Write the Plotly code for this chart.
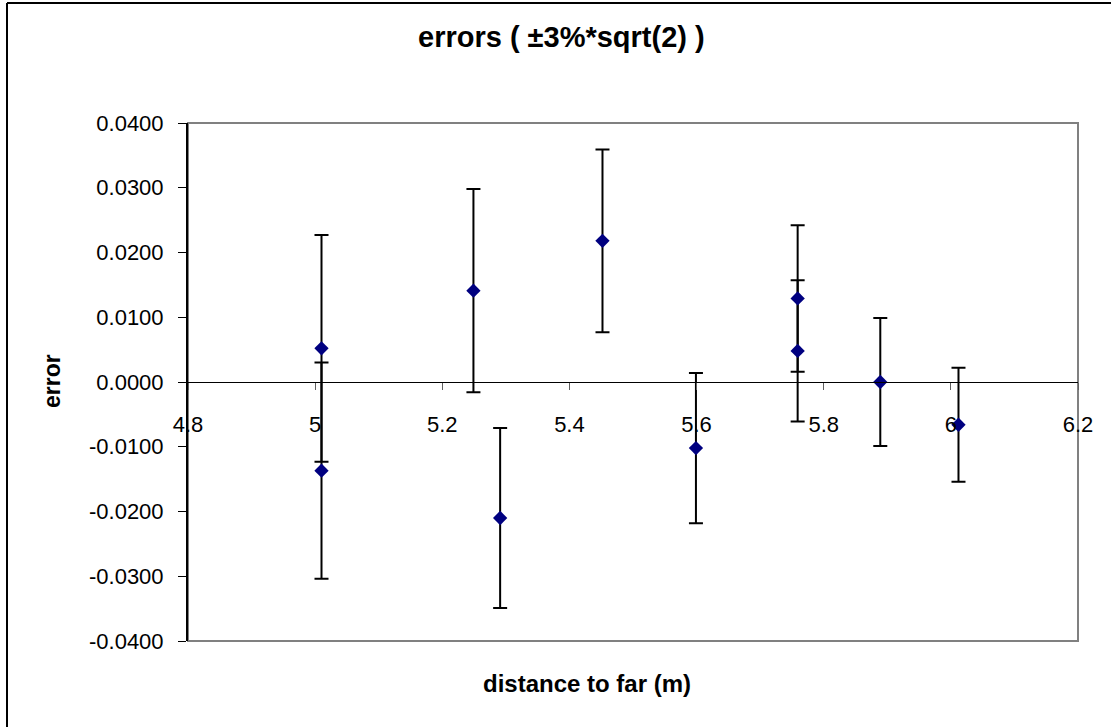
import plotly.graph_objects as go

# Measured distance (m), error value and half-width of its error bar
distance = [5.010, 5.010, 5.249, 5.291, 5.452, 5.599, 5.759, 5.759, 5.889, 6.012]
error_val = [0.0052, -0.0137, 0.0141, -0.0210, 0.0218, -0.0102, 0.0129, 0.0048, 0.0000, -0.0066]
error_bar = [0.0175, 0.0167, 0.0157, 0.0139, 0.0141, 0.0116, 0.0113, 0.0109, 0.0099, 0.0088]

x_tick_vals = [4.8, 5.0, 5.2, 5.4, 5.6, 5.8, 6.0, 6.2]
x_tick_text = ["4.8", "5", "5.2", "5.4", "5.6", "5.8", "6", "6.2"]
y_tick_vals = [0.04, 0.03, 0.02, 0.01, 0.0, -0.01, -0.02, -0.03, -0.04]
y_tick_text = ["0.0400", "0.0300", "0.0200", "0.0100", "0.0000",
               "-0.0100", "-0.0200", "-0.0300", "-0.0400"]

FONT = "Liberation Sans, Arial, sans-serif"
W, H = 1111, 727
L, R, T, B = 188, 33, 123, 86
PW, PH = W - L - R, H - T - B


def px_x(p):
    return (p - L) / PW


def px_y(p):
    return (H - B - p) / PH


fig = go.Figure()
fig.add_trace(go.Scatter(
    x=distance, y=error_val, mode="markers",
    marker=dict(symbol="diamond", size=11, color="#000080", line=dict(width=0)),
    error_y=dict(type="data", array=error_bar, visible=True,
                 color="black", thickness=2, width=7),
    showlegend=False,
))

fig.update_layout(
    width=W, height=H, autosize=False,
    margin=dict(l=L, r=R, t=T, b=B, pad=0),
    paper_bgcolor="white", plot_bgcolor="white",
    font=dict(family=FONT, color="black"),
    xaxis=dict(
        range=[4.8, 6.2], tickvals=x_tick_vals, ticktext=x_tick_text,
        showgrid=False, zeroline=False, showline=True,
        linecolor="black", linewidth=1,
        ticks="outside", ticklen=7, tickcolor="#606060", tickwidth=1,
        tickfont=dict(size=22, family=FONT),
        ticklabelstandoff=16,
        anchor="free", position=0.5,
    ),
    yaxis=dict(
        range=[-0.04, 0.04], tickvals=y_tick_vals, ticktext=y_tick_text,
        showgrid=False, zeroline=False, showline=True,
        linecolor="black", linewidth=2,
        ticks="outside", ticklen=8, tickcolor="black", tickwidth=1,
        tickfont=dict(size=22, family=FONT),
        ticklabelstandoff=10,
    ),
    shapes=[
        # plot-area border
        dict(type="rect", xref="paper", yref="paper", x0=0, x1=1, y0=0, y1=1,
             line=dict(color="#808080", width=2), layer="below"),
        # chart frame (left and top edges are inside the page)
        dict(type="line", xref="paper", yref="paper",
             x0=px_x(7), x1=px_x(7), y0=px_y(H + 5), y1=px_y(3),
             line=dict(color="black", width=2)),
        dict(type="line", xref="paper", yref="paper",
             x0=px_x(7), x1=px_x(W + 5), y0=px_y(3), y1=px_y(3),
             line=dict(color="black", width=2)),
    ],
    annotations=[
        dict(text="<b>errors ( ±3%*sqrt(2) )</b>", xref="paper", yref="paper",
             x=px_x(561), y=px_y(37), xanchor="center", yanchor="middle",
             showarrow=False, font=dict(size=29, family=FONT)),
        dict(text="<b>distance to far (m)</b>", xref="paper", yref="paper",
             x=px_x(587), y=px_y(683), xanchor="center", yanchor="middle",
             showarrow=False, font=dict(size=24, family=FONT)),
        dict(text="<b>error</b>", xref="paper", yref="paper",
             x=px_x(52), y=px_y(381), xanchor="center", yanchor="middle",
             textangle=-90, showarrow=False, font=dict(size=23, family=FONT)),
    ],
)

fig.write_html("out.html")
